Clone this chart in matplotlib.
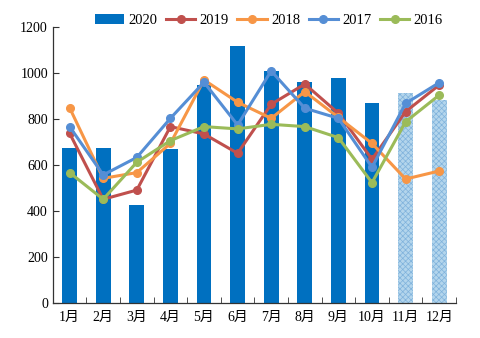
import numpy as np
import matplotlib
matplotlib.use("Agg")
import matplotlib.pyplot as plt

plt.rcParams['font.family'] = ['Liberation Serif', 'Noto Sans CJK SC']
plt.rcParams['hatch.linewidth'] = 0.5

months = ['1月', '2月', '3月', '4月', '5月', '6月', '7月', '8月', '9月', '10月', '11月', '12月']
y2020 = [674, 674, 426, 670, 950, 1117, 1010, 960, 980, 868, 912, 883]
y2019 = [738, 451, 491, 767, 735, 651, 864, 952, 825, 625, 832, 948]
y2018 = [849, 542, 567, 694, 970, 873, 803, 919, 807, 694, 539, 574]
y2017 = [767, 557, 633, 803, 960, 774, 1009, 847, 803, 590, 868, 958]
y2016 = [567, 451, 612, 706, 767, 757, 777, 767, 719, 523, 788, 904]
n_actual = 10  # months with actual 2020 data; the rest are drawn hatched

fig = plt.figure(figsize=(4.8, 3.38), dpi=100)
ax = fig.add_axes([0.110, 0.1036, 0.840, 0.8164])

x = np.arange(len(months))
bar_h = ax.bar(x[:n_actual], y2020[:n_actual], width=0.44, color='#0070C0', zorder=2, label='2020')
ax.bar(x[n_actual:], y2020[n_actual:], width=0.44, facecolor='#b3d5ec', edgecolor='#7fb2dc',
       hatch='xxxxxx', linewidth=0, zorder=2)

handles = [bar_h]
series = [('2019', y2019, '#C0504D'), ('2018', y2018, '#F79646'),
          ('2017', y2017, '#558ED5'), ('2016', y2016, '#9BBB59')]
for name, vals, col in series:
    ln, = ax.plot(x, vals, color=col, lw=2.2, marker='o', ms=5.5, label=name, zorder=3)
    handles.append(ln)

ax.set_xlim(-0.5, len(months) - 0.5)
ax.set_ylim(0, 1200)
ax.set_yticks(range(0, 1201, 200))
ax.set_xticks(x)
ax.set_xticklabels(months)
ax.set_xticks(np.arange(-0.5, len(months)), minor=True)
ax.tick_params(axis='x', which='major', length=0, labelsize=10, pad=6)
ax.tick_params(axis='x', which='minor', direction='in', length=4, color='#333333')
ax.tick_params(axis='y', direction='in', length=4, labelsize=10, color='#333333')
for s in ['top', 'right']:
    ax.spines[s].set_visible(False)
for s in ['left', 'bottom']:
    ax.spines[s].set_color('#333333')
    ax.spines[s].set_linewidth(0.9)

fig.legend(handles=handles, loc='center', bbox_to_anchor=(0.56, 0.94), ncol=5, frameon=False,
           fontsize=10.5, handlelength=2.0, handletextpad=0.3, columnspacing=0.6,
           borderaxespad=0)

fig.savefig('out.png', dpi=100)
